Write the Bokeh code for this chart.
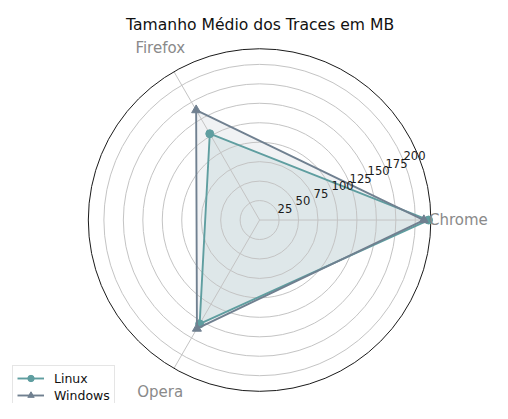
import numpy as np
from bokeh.plotting import figure
from bokeh.models import Label, Legend, LegendItem, Range1d
from bokeh.core.properties import value
from bokeh.embed import file_html
from bokeh.resources import INLINE

# ---- data ----
categories = ["Chrome", "Firefox", "Opera"]
linux = [217, 128, 154]
windows = [211, 163, 161]
r_ticks = [25, 50, 75, 100, 125, 150, 175, 200]
r_max = 220
title = "Tamanho Médio dos Traces em MB"

# ---- layout ----
W, H = 492, 403
k = 0.965                       # overall layout scale
cx, cy = 268.5 * k, 227.5 * k   # centre of the polar plot in pixels
scale = 177.5 * k / r_max       # px per unit

p = figure(width=W, height=H, output_backend="svg", toolbar_location=None,
           x_range=Range1d(-cx / scale, (W - cx) / scale),
           y_range=Range1d(-(H - cy) / scale, cy / scale),
           min_border=0)
p.axis.visible = False
p.grid.visible = False
p.outline_line_color = None

FONT = value("DejaVu Sans")
n = len(categories)
theta = np.array([2 * np.pi * i / n for i in range(n)])

def xy(vals):
    v = np.array(vals, dtype=float)
    x = v * np.cos(theta)
    y = v * np.sin(theta)
    return np.append(x, x[0]), np.append(y, y[0])

c_lin = "#5f9ea0"
c_win = "#708090"

wx, wy = xy(windows)
lx, ly = xy(linux)
p.patch(wx, wy, fill_color=c_win, fill_alpha=0.1, line_color=None)
p.patch(lx, ly, fill_color=c_lin, fill_alpha=0.12, line_color=None)

# grid circles
p.circle(x=[0] * len(r_ticks), y=[0] * len(r_ticks), radius=r_ticks,
         fill_color=None, line_color="#c4c4c4", line_width=1)
# spokes
p.segment(x0=[0] * n, y0=[0] * n, x1=list(r_max * np.cos(theta)),
          y1=list(r_max * np.sin(theta)), line_color="#c4c4c4", line_width=1)
# outer spine
p.circle(x=[0], y=[0], radius=[r_max], fill_color=None, line_color="#1a1a1a", line_width=1)

# series
lr = p.line(lx, ly, line_color=c_lin, line_width=1.9)
lm = p.scatter(lx[:-1], ly[:-1], marker="circle", size=8, fill_color=c_lin, line_color=c_lin)
wr = p.line(wx, wy, line_color=c_win, line_width=1.9)
wm = p.scatter(wx[:-1], wy[:-1], marker="triangle", size=9, fill_color=c_win, line_color=c_win)

# radial tick labels
ang = np.deg2rad(22.5)
tr = np.array(r_ticks, dtype=float)
p.text(x=list(tr * np.cos(ang)), y=list(tr * np.sin(ang)), text=[str(t) for t in r_ticks],
       text_align="left", text_baseline="bottom", text_font=FONT,
       text_font_size="11.6px", text_color="#1a1a1a")

# category labels
lab_r = 206 * k / scale
p.text(x=list(lab_r * np.cos(theta)), y=list(lab_r * np.sin(theta)), text=categories,
       text_align="center", text_baseline="middle", text_font=FONT,
       text_font_size="15px", text_color="#8a8a8a")

# title
p.add_layout(Label(x=269 * k, y=H - 25 * k, x_units="screen", y_units="screen", text=title,
                   text_align="center", text_baseline="alphabetic",
                   text_font="DejaVu Sans", text_font_size="15.6px", text_color="#111111"))

legend = Legend(items=[LegendItem(label="Linux", renderers=[lr, lm]),
                       LegendItem(label="Windows", renderers=[wr, wm])],
                location=(12, -5), orientation="vertical",
                label_text_font="DejaVu Sans", label_text_font_size="12.5px",
                label_text_color="#111111",
                glyph_width=27, glyph_height=16, label_height=16, spacing=1,
                padding=4, margin=0, label_standoff=10,
                border_line_color="#cccccc", border_line_width=1,
                background_fill_alpha=0.8)
p.add_layout(legend, "center")

open("out.html", "w").write(file_html(p, INLINE))
